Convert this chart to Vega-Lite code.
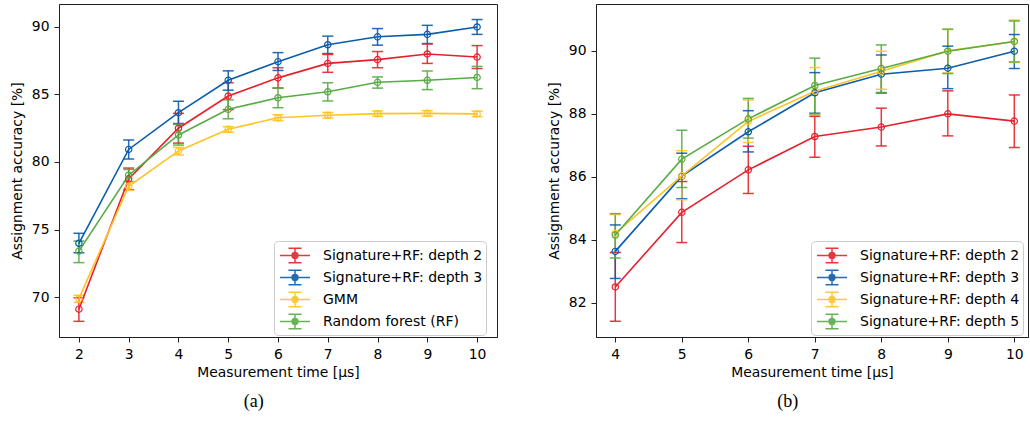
{
  "$schema": "https://vega.github.io/schema/vega-lite/v6.json",
  "padding": {"left": 9, "top": 3, "right": 0, "bottom": 0},
  "background": "white",
  "config": {
    "font": "DejaVu Sans",
    "view": {"stroke": "#222222", "strokeWidth": 1},
    "axis": {
      "grid": false,
      "domainColor": "#222222",
      "tickColor": "#222222",
      "tickSize": 5,
      "labelPadding": 5,
      "labelFont": "DejaVu Sans",
      "titleFont": "DejaVu Sans",
      "labelFontSize": 13.9,
      "titleFontSize": 13.9,
      "labelColor": "black",
      "titleColor": "black",
      "titleFontWeight": "normal",
      "labelFlush": false,
      "labelOverlap": false
    },
    "axisY": {"titlePadding": 7},
    "axisX": {"titlePadding": 5},
    "concat": {"spacing": 48}
  },
  "datasets": {
    "a": [
      {"s": "Signature+RF: depth 2", "x": 2, "y": 69.1, "lo": 68.2, "hi": 69.95},
      {"s": "Signature+RF: depth 2", "x": 3, "y": 78.75, "lo": 77.95, "hi": 79.55},
      {"s": "Signature+RF: depth 2", "x": 4, "y": 82.5, "lo": 81.4, "hi": 83.6},
      {"s": "Signature+RF: depth 2", "x": 5, "y": 84.88, "lo": 83.88, "hi": 85.87},
      {"s": "Signature+RF: depth 2", "x": 6, "y": 86.23, "lo": 85.48, "hi": 86.98},
      {"s": "Signature+RF: depth 2", "x": 7, "y": 87.3, "lo": 86.64, "hi": 87.96},
      {"s": "Signature+RF: depth 2", "x": 8, "y": 87.58, "lo": 86.98, "hi": 88.18},
      {"s": "Signature+RF: depth 2", "x": 9, "y": 88.0, "lo": 87.3, "hi": 88.74},
      {"s": "Signature+RF: depth 2", "x": 10, "y": 87.77, "lo": 86.92, "hi": 88.62},
      {"s": "Signature+RF: depth 3", "x": 2, "y": 73.98, "lo": 73.28, "hi": 74.72},
      {"s": "Signature+RF: depth 3", "x": 3, "y": 80.93, "lo": 80.22, "hi": 81.63},
      {"s": "Signature+RF: depth 3", "x": 4, "y": 83.65, "lo": 82.85, "hi": 84.5},
      {"s": "Signature+RF: depth 3", "x": 5, "y": 86.05, "lo": 85.32, "hi": 86.75},
      {"s": "Signature+RF: depth 3", "x": 6, "y": 87.43, "lo": 86.78, "hi": 88.1},
      {"s": "Signature+RF: depth 3", "x": 7, "y": 88.68, "lo": 88.03, "hi": 89.32},
      {"s": "Signature+RF: depth 3", "x": 8, "y": 89.27, "lo": 88.65, "hi": 89.88},
      {"s": "Signature+RF: depth 3", "x": 9, "y": 89.45, "lo": 88.77, "hi": 90.12},
      {"s": "Signature+RF: depth 3", "x": 10, "y": 90.0, "lo": 89.45, "hi": 90.55},
      {"s": "GMM", "x": 2, "y": 69.88, "lo": 69.6, "hi": 70.13},
      {"s": "GMM", "x": 3, "y": 78.2, "lo": 77.9, "hi": 78.5},
      {"s": "GMM", "x": 4, "y": 80.82, "lo": 80.52, "hi": 81.08},
      {"s": "GMM", "x": 5, "y": 82.42, "lo": 82.2, "hi": 82.62},
      {"s": "GMM", "x": 6, "y": 83.28, "lo": 83.06, "hi": 83.5},
      {"s": "GMM", "x": 7, "y": 83.46, "lo": 83.25, "hi": 83.67},
      {"s": "GMM", "x": 8, "y": 83.58, "lo": 83.38, "hi": 83.78},
      {"s": "GMM", "x": 9, "y": 83.6, "lo": 83.4, "hi": 83.8},
      {"s": "GMM", "x": 10, "y": 83.56, "lo": 83.36, "hi": 83.76},
      {"s": "Random forest (RF)", "x": 2, "y": 73.4, "lo": 72.55, "hi": 74.15},
      {"s": "Random forest (RF)", "x": 3, "y": 79.02, "lo": 78.55, "hi": 79.45},
      {"s": "Random forest (RF)", "x": 4, "y": 82.0, "lo": 81.25, "hi": 82.78},
      {"s": "Random forest (RF)", "x": 5, "y": 83.9, "lo": 83.2, "hi": 84.6},
      {"s": "Random forest (RF)", "x": 6, "y": 84.76, "lo": 84.02, "hi": 85.46},
      {"s": "Random forest (RF)", "x": 7, "y": 85.2, "lo": 84.52, "hi": 85.87},
      {"s": "Random forest (RF)", "x": 8, "y": 85.9, "lo": 85.47, "hi": 86.3},
      {"s": "Random forest (RF)", "x": 9, "y": 86.05, "lo": 85.36, "hi": 86.74},
      {"s": "Random forest (RF)", "x": 10, "y": 86.26, "lo": 85.43, "hi": 87.08}
    ],
    "b": [
      {"s": "Signature+RF: depth 2", "x": 4, "y": 82.5, "lo": 81.41, "hi": 83.6},
      {"s": "Signature+RF: depth 2", "x": 5, "y": 84.87, "lo": 83.91, "hi": 85.85},
      {"s": "Signature+RF: depth 2", "x": 6, "y": 86.22, "lo": 85.47, "hi": 86.97},
      {"s": "Signature+RF: depth 2", "x": 7, "y": 87.28, "lo": 86.62, "hi": 87.92},
      {"s": "Signature+RF: depth 2", "x": 8, "y": 87.58, "lo": 86.98, "hi": 88.18},
      {"s": "Signature+RF: depth 2", "x": 9, "y": 88.0, "lo": 87.3, "hi": 88.73},
      {"s": "Signature+RF: depth 2", "x": 10, "y": 87.77, "lo": 86.93, "hi": 88.6},
      {"s": "Signature+RF: depth 3", "x": 4, "y": 83.63, "lo": 82.77, "hi": 84.47},
      {"s": "Signature+RF: depth 3", "x": 5, "y": 86.02, "lo": 85.3, "hi": 86.75},
      {"s": "Signature+RF: depth 3", "x": 6, "y": 87.43, "lo": 86.79, "hi": 88.1},
      {"s": "Signature+RF: depth 3", "x": 7, "y": 88.67, "lo": 88.02, "hi": 89.31},
      {"s": "Signature+RF: depth 3", "x": 8, "y": 89.26, "lo": 88.66, "hi": 89.87},
      {"s": "Signature+RF: depth 3", "x": 9, "y": 89.45, "lo": 88.8, "hi": 90.15},
      {"s": "Signature+RF: depth 3", "x": 10, "y": 89.99, "lo": 89.44, "hi": 90.52},
      {"s": "Signature+RF: depth 4", "x": 4, "y": 84.2, "lo": 83.58, "hi": 84.8},
      {"s": "Signature+RF: depth 4", "x": 5, "y": 86.03, "lo": 85.27, "hi": 86.83},
      {"s": "Signature+RF: depth 4", "x": 6, "y": 87.76, "lo": 87.09, "hi": 88.44},
      {"s": "Signature+RF: depth 4", "x": 7, "y": 88.72, "lo": 87.96, "hi": 89.47},
      {"s": "Signature+RF: depth 4", "x": 8, "y": 89.35, "lo": 88.78, "hi": 89.99},
      {"s": "Signature+RF: depth 4", "x": 9, "y": 90.0, "lo": 89.3, "hi": 90.68},
      {"s": "Signature+RF: depth 4", "x": 10, "y": 90.3, "lo": 89.63, "hi": 90.98},
      {"s": "Signature+RF: depth 5", "x": 4, "y": 84.15, "lo": 83.42, "hi": 84.83},
      {"s": "Signature+RF: depth 5", "x": 5, "y": 86.56, "lo": 85.66, "hi": 87.48},
      {"s": "Signature+RF: depth 5", "x": 6, "y": 87.84, "lo": 87.23, "hi": 88.49},
      {"s": "Signature+RF: depth 5", "x": 7, "y": 88.9, "lo": 88.0, "hi": 89.77},
      {"s": "Signature+RF: depth 5", "x": 8, "y": 89.44, "lo": 88.68, "hi": 90.19},
      {"s": "Signature+RF: depth 5", "x": 9, "y": 89.99, "lo": 89.28, "hi": 90.69},
      {"s": "Signature+RF: depth 5", "x": 10, "y": 90.3, "lo": 89.65, "hi": 90.95}
    ]
  },
  "resolve": {"scale": {"color": "independent", "x": "independent", "y": "independent"}},
  "hconcat": [
    {
      "width": 438,
      "height": 333,
      "data": {"name": "a"},
      "title": {"text": "(a)", "orient": "bottom", "anchor": "middle", "frame": "bounds", "font": "Liberation Serif", "fontSize": 18, "fontWeight": "normal", "color": "black", "offset": 13},
      "encoding": {
        "x": {"field": "x", "type": "quantitative", "scale": {"domain": [1.6, 10.4], "nice": false, "zero": false}, "axis": {"values": [2, 3, 4, 5, 6, 7, 8, 9, 10], "title": "Measurement time [μs]"}},
        "color": {"field": "s", "type": "nominal", "sort": ["Signature+RF: depth 2", "Signature+RF: depth 3", "GMM", "Random forest (RF)"],
          "scale": {"domain": ["Signature+RF: depth 2", "Signature+RF: depth 3", "GMM", "Random forest (RF)"], "range": ["#e6212b", "#0b5cad", "#ffc325", "#58ab45"]},
          "legend": {"title": null, "orient": "none", "legendX": 215, "legendY": 237, "fillColor": "white", "strokeColor": "#cccccc", "cornerRadius": 4, "padding": 3, "symbolOffset": 6.5, "labelOffset": 16.5, "rowPadding": 0, "symbolSize": 441, "symbolStrokeWidth": 1.5, "symbolFillColor": "transparent", "symbolType": "M-1.43,0H1.43M0,-0.7V0.7M-0.62,-0.7H0.62M-0.62,0.7H0.62M0.28,0A0.28,0.28 0 1 1 -0.28,0A0.28,0.28 0 1 1 0.28,0", "labelFontSize": 14, "labelFont": "DejaVu Sans", "labelColor": "black", "labelLimit": 0}}
      },
      "layer": [
        {"mark": {"type": "rule", "strokeWidth": 1.5, "opacity": 0.9},
         "encoding": {"y": {"field": "lo", "type": "quantitative", "scale": {"domain": [67.04, 91.7], "nice": false, "zero": false}, "axis": {"values": [70, 75, 80, 85, 90], "title": "Assignment accuracy [%]"}}, "y2": {"field": "hi"}}},
        {"mark": {"type": "tick", "orient": "horizontal", "size": 11, "thickness": 1.5, "opacity": 0.9},
         "encoding": {"y": {"field": "lo", "type": "quantitative", "title": "Assignment accuracy [%]"}}},
        {"mark": {"type": "tick", "orient": "horizontal", "size": 11, "thickness": 1.5, "opacity": 0.9},
         "encoding": {"y": {"field": "hi", "type": "quantitative", "title": "Assignment accuracy [%]"}}},
        {"mark": {"type": "line", "strokeWidth": 1.6},
         "encoding": {"y": {"field": "y", "type": "quantitative", "title": "Assignment accuracy [%]"}}},
        {"mark": {"type": "point", "filled": false, "size": 40, "strokeWidth": 1.2, "opacity": 1},
         "encoding": {"y": {"field": "y", "type": "quantitative", "title": "Assignment accuracy [%]"}}}
      ]
    },
    {
      "width": 432,
      "height": 333,
      "data": {"name": "b"},
      "title": {"text": "(b)", "orient": "bottom", "anchor": "middle", "frame": "bounds", "font": "Liberation Serif", "fontSize": 18, "fontWeight": "normal", "color": "black", "offset": 13},
      "encoding": {
        "x": {"field": "x", "type": "quantitative", "scale": {"domain": [3.71, 10.206], "nice": false, "zero": false}, "axis": {"values": [4, 5, 6, 7, 8, 9, 10], "title": "Measurement time [μs]"}},
        "color": {"field": "s", "type": "nominal", "sort": ["Signature+RF: depth 2", "Signature+RF: depth 3", "Signature+RF: depth 4", "Signature+RF: depth 5"],
          "scale": {"domain": ["Signature+RF: depth 2", "Signature+RF: depth 3", "Signature+RF: depth 4", "Signature+RF: depth 5"], "range": ["#e6212b", "#0b5cad", "#ffc325", "#58ab45"]},
          "legend": {"title": null, "orient": "none", "legendX": 215, "legendY": 237, "fillColor": "white", "strokeColor": "#cccccc", "cornerRadius": 4, "padding": 3, "symbolOffset": 6.5, "labelOffset": 16.5, "rowPadding": 0, "symbolSize": 441, "symbolStrokeWidth": 1.5, "symbolFillColor": "transparent", "symbolType": "M-1.43,0H1.43M0,-0.7V0.7M-0.62,-0.7H0.62M-0.62,0.7H0.62M0.28,0A0.28,0.28 0 1 1 -0.28,0A0.28,0.28 0 1 1 0.28,0", "labelFontSize": 14, "labelFont": "DejaVu Sans", "labelColor": "black", "labelLimit": 0}}
      },
      "layer": [
        {"mark": {"type": "rule", "strokeWidth": 1.5, "opacity": 0.9},
         "encoding": {"y": {"field": "lo", "type": "quantitative", "scale": {"domain": [80.91, 91.49], "nice": false, "zero": false}, "axis": {"values": [82, 84, 86, 88, 90], "title": "Assignment accuracy [%]"}}, "y2": {"field": "hi"}}},
        {"mark": {"type": "tick", "orient": "horizontal", "size": 11, "thickness": 1.5, "opacity": 0.9},
         "encoding": {"y": {"field": "lo", "type": "quantitative", "title": "Assignment accuracy [%]"}}},
        {"mark": {"type": "tick", "orient": "horizontal", "size": 11, "thickness": 1.5, "opacity": 0.9},
         "encoding": {"y": {"field": "hi", "type": "quantitative", "title": "Assignment accuracy [%]"}}},
        {"mark": {"type": "line", "strokeWidth": 1.6},
         "encoding": {"y": {"field": "y", "type": "quantitative", "title": "Assignment accuracy [%]"}}},
        {"mark": {"type": "point", "filled": false, "size": 40, "strokeWidth": 1.2, "opacity": 1},
         "encoding": {"y": {"field": "y", "type": "quantitative", "title": "Assignment accuracy [%]"}}}
      ]
    }
  ]
}
